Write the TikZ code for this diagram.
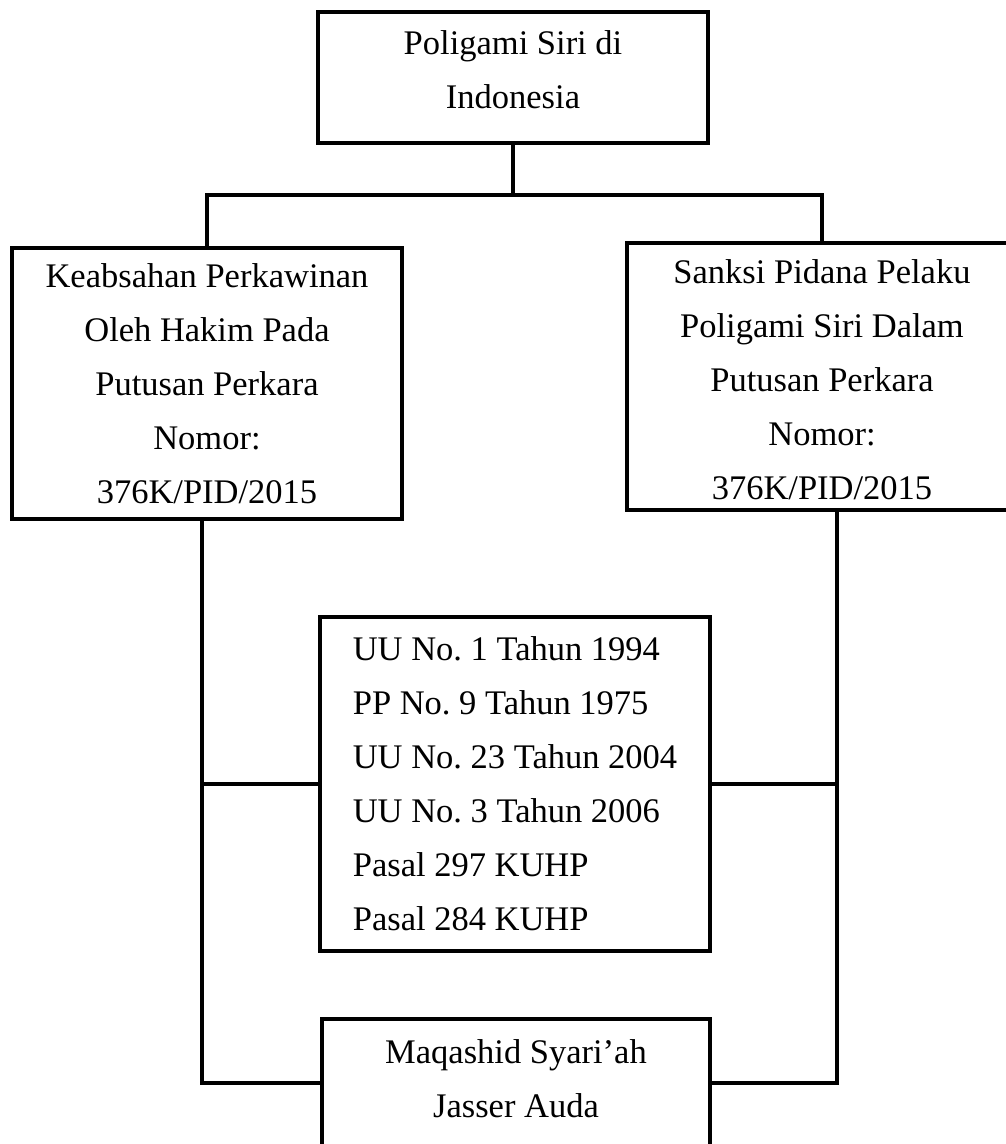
\documentclass[tikz,border=0pt]{standalone}
\usepackage{fontspec}
\setmainfont{Liberation Serif}
\frenchspacing
\begin{document}
\begin{tikzpicture}[x=1pt,y=-1pt,
  boxstyle/.style={draw=black, line width=3.5pt, rectangle, inner sep=0pt,
    align=center, font=\fontsize{34.5}{54}\selectfont},
  txtstyle/.style={inner sep=0pt, align=center, font=\fontsize{34.5}{54}\selectfont},
  conn/.style={draw=black, line width=3.5pt}]
\useasboundingbox (0,0) rectangle (1006,1144);
\node[boxstyle, minimum width=390pt, minimum height=131pt] (top) at (513,77.5) {};
\node[txtstyle] (toptext) at (513,69.5) {Poligami Siri di\\Indonesia};
\node[boxstyle, minimum width=390pt, minimum height=271pt] (left) at (207,383.5)
  {Keabsahan Perkawinan\\Oleh Hakim Pada\\Putusan Perkara\\Nomor:\\376K/PID/2015};
\node[boxstyle, minimum width=390pt, minimum height=267pt] (right) at (822,376.5) {};
\node[txtstyle] (righttext) at (822,379.5)
  {Sanksi Pidana Pelaku\\Poligami Siri Dalam\\Putusan Perkara\\Nomor:\\376K/PID/2015};
\node[boxstyle, align=left, minimum width=390pt, minimum height=334pt] (mid) at (515,784)
  {UU No.~1 Tahun 1994\\PP No.~9 Tahun 1975\\UU No.~23 Tahun 2004\\UU No.~3 Tahun 2006\\Pasal 297 KUHP\\Pasal 284 KUHP};
\node[boxstyle, minimum width=388pt, minimum height=128pt] (bot) at (516,1083) {};
\node[txtstyle] (bottext) at (516,1079) {Maqashid Syari’ah\\Jasser Auda};
\coordinate (j) at (513,195);
\coordinate (ls) at ([xshift=-5pt]left.south);
\coordinate (rs) at ([xshift=15pt]right.south);
\draw[conn] (top.south) -- (j);
\draw[conn] (left.north) |- (j) -| (right.north);
\draw[conn] (ls) |- (bot.west);
\draw[conn] (rs) |- (bot.east);
\draw[conn] (mid.west) -- (mid.west -| ls);
\draw[conn] (mid.east) -- (mid.east -| rs);
\end{tikzpicture}
\end{document}
